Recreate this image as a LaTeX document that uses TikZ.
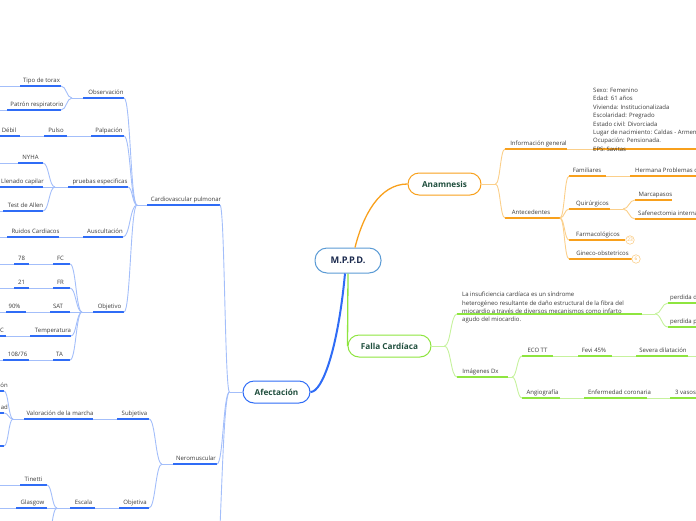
\documentclass[tikz,border=0pt]{standalone}
\usepackage{fontspec}
\setmainfont{Open Sans}
\usetikzlibrary{calc}
\definecolor{blu}{HTML}{2F6CF6}
\definecolor{bluL}{HTML}{A3BEFA}
\definecolor{ora}{HTML}{F8A01C}
\definecolor{oraL}{HTML}{FBCF8A}
\definecolor{grn}{HTML}{8EE53F}
\definecolor{grnL}{HTML}{C6F29D}
\definecolor{hubc}{HTML}{5B9BD5}
\definecolor{navy}{HTML}{1B2A4E}
\definecolor{dkgrn}{HTML}{1F4E3D}
\definecolor{ink}{HTML}{3A3A3A}
\begin{document}
\begin{tikzpicture}[x=1pt, y=-1pt, line cap=butt,
    every node/.style={font=\fontsize{6}{7}\selectfont, text=ink},
    lbl/.style={inner sep=0pt, anchor=base, yshift=3.2pt},
    lbll/.style={lbl, anchor=base west},
    lblr/.style={lbl, anchor=base east},
    hub/.style={draw=hubc, line width=1pt, fill=white, rounded corners=12pt, minimum width=66pt, minimum height=25pt, inner sep=0pt, font=\bfseries\fontsize{9.2}{10}\selectfont, text=navy},
    topic/.style={line width=1pt, fill=white, rounded corners=11pt, minimum height=22pt, inner sep=0pt, font=\bfseries\fontsize{8.2}{10}\selectfont, text=dkgrn},
    count/.style={circle, draw=oraL, line width=0.6pt, fill=white, minimum size=8.5pt, inner sep=0pt, font=\fontsize{4.8}{5}\selectfont, text=ora!70},
    bbar/.style={draw=blu, line width=1.8pt}, blink/.style={draw=bluL, line width=0.9pt},
    obar/.style={draw=ora, line width=1.8pt}, olink/.style={draw=oraL, line width=0.9pt},
    gbar/.style={draw=grn, line width=1.8pt}, glink/.style={draw=grnL, line width=0.9pt},
    branch/.style={to path={.. controls ($(\tikztostart)!0.5!(\tikztostart -| \tikztotarget)$) and ($(\tikztotarget)!0.5!(\tikztotarget -| \tikztostart)$) .. (\tikztotarget)}}]
    \useasboundingbox (0,0) rectangle (696,520);
    \clip (0,0) rectangle (696,520);

    % Centro y ramas principales
    \node[hub] (mppd) at (348,260.5) {M.P.P.D.};
    \node[topic, draw=ora, minimum width=73pt] (anam) at (444.5,184) {Anamnesis};
    \node[topic, draw=grn, minimum width=83pt] (falla) at (389.5,346) {Falla Cardíaca};
    \node[topic, draw=blu, minimum width=67pt] (afec) at (276.5,392) {Afectación};
    \draw[ora, line width=1.3pt] ([xshift=7pt]mppd.north) .. controls +(8,-32) and +(-28,0) .. (anam.west);
    \draw[grn, line width=1.3pt] (mppd.south) -- (falla.west);
    \draw[blu, line width=2pt] ([xshift=-3pt]mppd.south) .. controls +(-7,75) and +(12,0) .. (afec.east);

    % Anamnesis
    \draw[olink] (anam.east) -- ++(14,0) coordinate (anam-j);
    \draw[obar] (505,149) coordinate (info-l) -- (567,149) coordinate (info-r);
    \node[lbl] (info) at (538.5,149) {Información general};
    \draw[obar] (593,149) coordinate (datos-l) -- (700,149);
    \draw[olink] (info-r) -- (datos-l);
    \node[lbll, anchor=north west, align=left, font=\fontsize{6}{8.4}\selectfont] (datos) at (593,91) {Sexo: Femenino\\Edad: 61 años\\Vivienda: Institucionalizada\\Escolaridad: Pregrado\\Estado civil: Divorciada\\Lugar de nacimiento: Caldas - Armenia\\Ocupación: Pensionada.\\EPS: Savitas};
    \draw[obar] (505,218) coordinate (ante-l) -- (560,218) coordinate (ante-r);
    \node[lbl] (ante) at (531,218) {Antecedentes};
    \draw[olink] (anam-j) to[branch] (info-l);
    \draw[olink] (anam-j) to[branch] (ante-l);
    % Antecedentes
    \draw[obar] (569,176) coordinate (fam-l) -- (606,176) coordinate (fam-r);
    \node[lbl] (fam) at (587,176) {Familiares};
    \draw[obar] (630,176) coordinate (herm-l) -- (700,176);
    \node[lbll] (herm) at (635,176) {Hermana Problemas c};
    \draw[olink] (fam-r) -- (herm-l);
    \draw[obar] (569,209) coordinate (quir-l) -- (610,209) coordinate (quir-r);
    \node[lbl] (quir) at (592.5,209) {Quirúrgicos};
    \draw[olink] (quir-r) -- ++(13,0) coordinate (quir-j);
    \draw[obar] (635,200) coordinate (marc-l) -- (672,200);
    \node[lbl] (marc) at (655.5,200) {Marcapasos};
    \draw[obar] (635,219) coordinate (safe-l) -- (700,219);
    \node[lbll] (safe) at (638,219) {Safenectomia interna};
    \draw[olink] (quir-j) to[branch] (marc-l);
    \draw[olink] (quir-j) to[branch] (safe-l);
    \draw[obar] (569,240) coordinate (farm-l) -- (625,240);
    \node[lbl] (farm) at (598,240) {Farmacológicos};
    \node[count] (farm-n) at (630,240) {23};
    \draw[obar] (569,259) coordinate (gine-l) -- (632,259);
    \node[lbl] (gine) at (602.5,259) {Gineco-obstetricos};
    \node[count] (gine-n) at (636,259) {6};
    \foreach \k in {fam,quir,farm,gine}
        \draw[olink] (ante-r) to[branch] (\k-l);

    % Falla Cardiaca
    \draw[glink] (falla.east) -- ++(13,0) coordinate (falla-j);
    \draw[gbar] (457,314) coordinate (def-l) -- (642,314) coordinate (def-r);
    \node[lbll, anchor=north west, align=left, font=\fontsize{6}{8.4}\selectfont] (def) at (462,295) {La insuficiencia cardíaca es un síndrome\\heterogéneo resultante de daño estructural de la fibra del\\miocardio a través de diversos mecanismos como infarto\\agudo del miocardio.};
    \draw[glink] (def-r) -- ++(13,0) coordinate (def-j);
    \draw[gbar] (668,303) coordinate (perd1-l) -- (700,303);
    \node[lbll] (perd1) at (670,303) {perdida d};
    \draw[gbar] (668,327) coordinate (perd2-l) -- (700,327);
    \node[lbll] (perd2) at (670,327) {perdida p};
    \draw[glink] (def-j) to[branch] (perd1-l);
    \draw[glink] (def-j) to[branch] (perd2-l);
    \draw[gbar] (457,377) coordinate (img-l) -- (508,377) coordinate (img-r);
    \node[lbl] (img) at (480.5,377) {Imágenes Dx};
    \draw[glink] (falla-j) to[branch] (def-l);
    \draw[glink] (falla-j) to[branch] (img-l);
    \draw[glink] (img-r) -- ++(4,0) coordinate (img-j);
    % Imagenes Dx
    \draw[gbar] (522,356) coordinate (eco-l) -- (553,356) coordinate (eco-r);
    \node[lbl] (eco) at (537.5,356) {ECO TT};
    \draw[gbar] (578,356) coordinate (fevi-l) -- (612,356) coordinate (fevi-r);
    \node[lbl] (fevi) at (594,356) {Fevi 45\%};
    \draw[gbar] (636,356) coordinate (sev-l) -- (688,356) coordinate (sev-r);
    \node[lbl] (sev) at (663,356) {Severa dilatación};
    \draw[glink] (eco-r) -- (fevi-l);
    \draw[glink] (fevi-r) -- (sev-l);
    \draw[glink] (sev-r) -- (700,356);
    \draw[gbar] (522,398) coordinate (ang-l) -- (560,398) coordinate (ang-r);
    \node[lbl] (ang) at (542.5,398) {Angiografía};
    \draw[gbar] (584,398) coordinate (enf-l) -- (647,398) coordinate (enf-r);
    \node[lbl] (enf) at (619.5,398) {Enfermedad coronaria};
    \draw[gbar] (670,398) coordinate (vas-l) -- (700,398);
    \node[lbll] (vas) at (675,398) {3 vasos};
    \draw[glink] (ang-r) -- (enf-l);
    \draw[glink] (enf-r) -- (vas-l);
    \draw[glink] (img-j) to[branch] (eco-l);
    \draw[glink] (img-j) to[branch] (ang-l);

    % Afectacion
    \draw[blink] (afec.west) -- ++(-13,0) coordinate (afec-j);
    \coordinate (afec-c) at (213,600);
    \draw[bbar] (147,205) coordinate (cv-l) -- (220,205) coordinate (cv-r);
    \node[lbl] (cv) at (186,205) {Cardiovascular pulmonar};
    \draw[blink] (cv-l) -- ++(-10,0) coordinate (cv-j);
    \draw[bbar] (173,464) coordinate (nero-l) -- (217,464) coordinate (nero-r);
    \node[lbl] (nero) at (196,464) {Neromuscular};
    \draw[blink] (nero-l) -- ++(-11,0) coordinate (nero-j);
    \draw[blink] (afec-j) to[branch] (cv-r);
    \draw[blink] (afec-j) to[branch] (nero-r);
    \draw[blink] (afec-j) to[branch] (afec-c);

    % Cardiovascular pulmonar
    \draw[bbar] (83,98) coordinate (obs-l) -- (124,98) coordinate (obs-r);
    \node[lbl] (obs) at (106,98) {Observación};
    \draw[blink] (obs-l) -- ++(-11,0) coordinate (obs-j);
    \draw[bbar] (20,86) coordinate (tor-l) -- (61,86) coordinate (tor-r);
    \node[lbl] (tor) at (41.5,86) {Tipo de torax};
    \draw[blink] (tor-l) -- (-5,86);
    \draw[bbar] (7,110) coordinate (pat-l) -- (61,110) coordinate (pat-r);
    \node[lbl] (pat) at (37,110) {Patrón respiratorio};
    \draw[blink] (pat-l) -- (-5,110);
    \draw[blink] (obs-j) to[branch] (tor-r);
    \draw[blink] (obs-j) to[branch] (pat-r);
    \draw[bbar] (91,136) coordinate (palp-l) -- (124,136) coordinate (palp-r);
    \node[lbl] (palp) at (109,136) {Palpación};
    \draw[bbar] (44,136) coordinate (pul-l) -- (67,136) coordinate (pul-r);
    \node[lbl] (pul) at (56,136) {Pulso};
    \draw[bbar] (-5,136) -- (20,136) coordinate (deb-r);
    \node[lbl] (deb) at (9,136) {Débil};
    \draw[blink] (palp-l) -- (pul-r);
    \draw[blink] (pul-l) -- (deb-r);
    \draw[bbar] (68,187) coordinate (prue-l) -- (128,187) coordinate (prue-r);
    \node[lbl] (prue) at (100,187) {pruebas especificas};
    \draw[blink] (prue-l) -- ++(-13,0) coordinate (prue-j);
    \draw[bbar] (18,163) coordinate (nyha-l) -- (43,163) coordinate (nyha-r);
    \node[lbl] (nyha) at (30.5,163) {NYHA};
    \draw[blink] (nyha-l) -- (-5,163);
    \draw[bbar] (-5,187) -- (43,187) coordinate (llen-r);
    \node[lbl] (llen) at (22.5,187) {Llenado capilar};
    \draw[bbar] (3,211) coordinate (allen-l) -- (43,211) coordinate (allen-r);
    \node[lbl] (allen) at (25.5,211) {Test de Allen};
    \draw[blink] (allen-l) -- (-5,211);
    \foreach \k in {nyha,llen,allen}
        \draw[blink] (prue-j) to[branch] (\k-r);
    \draw[bbar] (83,237) coordinate (ausc-l) -- (123,237) coordinate (ausc-r);
    \node[lbl] (ausc) at (105,237) {Auscultación};
    \draw[bbar] (7,237) coordinate (ruid-l) -- (59,237) coordinate (ruid-r);
    \node[lbl] (ruid) at (35.5,237) {Ruidos Cardiacos};
    \draw[blink] (ausc-l) -- (ruid-r);
    \draw[blink] (ruid-l) -- (-5,237);
    \draw[bbar] (93,312) coordinate (obj-l) -- (124,312) coordinate (obj-r);
    \node[lbl] (obj) at (109.5,312) {Objetivo};
    \draw[blink] (obj-l) -- ++(-11,0) coordinate (obj-j);
    \foreach \k in {obs,palp,prue,ausc,obj}
        \draw[blink] (cv-j) to[branch] (\k-r);

    % Objetivo: signos vitales
    \draw[bbar] (53,264) coordinate (fc-l) -- (70,264) coordinate (fc-r);
    \node[lbl] (fc) at (60.5,264) {FC};
    \draw[bbar] (14,264) coordinate (fcv-l) -- (29,264) coordinate (fcv-r);
    \node[lbl] (fcv) at (21.5,264) {78};
    \draw[bbar] (53,288) coordinate (fr-l) -- (70,288) coordinate (fr-r);
    \node[lbl] (fr) at (60.5,288) {FR};
    \draw[bbar] (14,288) coordinate (frv-l) -- (29,288) coordinate (frv-r);
    \node[lbl] (frv) at (21.5,288) {21};
    \draw[bbar] (50,312) coordinate (sat-l) -- (70,312) coordinate (sat-r);
    \node[lbl] (sat) at (58,312) {SAT};
    \draw[bbar] (6,312) coordinate (satv-l) -- (26,312) coordinate (satv-r);
    \node[lbl] (satv) at (14.5,312) {90\%};
    \draw[bbar] (30,336) coordinate (temp-l) -- (71,336) coordinate (temp-r);
    \node[lbl] (temp) at (53,336) {Temperatura};
    \draw[bbar] (-5,336) -- (6,336) coordinate (tempv-r);
    \node[lblr] (tempv) at (4,336) {36°C};
    \draw[bbar] (53,360) coordinate (ta-l) -- (70,360) coordinate (ta-r);
    \node[lbl] (ta) at (59.5,360) {TA};
    \draw[bbar] (3,360) coordinate (tav-l) -- (29,360) coordinate (tav-r);
    \node[lbl] (tav) at (17.5,360) {108/76};
    \foreach \k/\v in {fc/fcv,fr/frv,sat/satv,ta/tav}
        \draw[blink] (\k-l) -- (\v-r);
    \draw[blink] (temp-l) -- (tempv-r);
    \foreach \v in {fcv,frv,satv,tav}
        \draw[blink] (\v-l) -- ++(-20,0);
    \foreach \k in {fc,fr,sat,temp,ta}
        \draw[blink] (obj-j) to[branch] (\k-r);

    % Neromuscular
    \draw[bbar] (117,419) coordinate (subj-l) -- (149,419) coordinate (subj-r);
    \node[lbl] (subj) at (134.5,419) {Subjetiva};
    \draw[bbar] (24,419) coordinate (marcha-l) -- (93,419) coordinate (marcha-r);
    \node[lbl] (marcha) at (60,419) {Valoración de la marcha};
    \draw[blink] (subj-l) -- (marcha-r);
    \draw[blink] (marcha-l) -- ++(-11,0) coordinate (marcha-j);
    \draw[bbar] (-20,391) -- (4,391) coordinate (mar1-r);
    \node[lblr] (mar1) at (8,391) {ón};
    \draw[bbar] (-20,413) -- (4,413) coordinate (mar2-r);
    \node[lblr] (mar2) at (8,413) {ad};
    \draw[bbar] (-20,446) -- (4,446) coordinate (mar3-r);
    \foreach \k in {mar1,mar2,mar3}
        \draw[blink] (marcha-j) to[branch] (\k-r);
    \draw[bbar] (119,508) coordinate (obja-l) -- (149,508) coordinate (obja-r);
    \node[lbl] (obja) at (135,508) {Objetiva};
    \draw[bbar] (70,508) coordinate (esc-l) -- (95,508) coordinate (esc-r);
    \node[lbl] (esc) at (83.5,508) {Escala};
    \draw[blink] (obja-l) -- (esc-r);
    \draw[blink] (esc-l) -- ++(-13,0) coordinate (esc-j);
    \coordinate (esc-c) at (46,545);
    \draw[bbar] (20,485) coordinate (tin-l) -- (47,485) coordinate (tin-r);
    \node[lbl] (tin) at (33.5,485) {Tinetti};
    \draw[blink] (tin-l) -- (-5,485);
    \draw[bbar] (16,508) coordinate (glas-l) -- (47,508) coordinate (glas-r);
    \node[lbl] (glas) at (32.5,508) {Glasgow};
    \draw[blink] (glas-l) -- (-5,508);
    \draw[blink] (esc-j) to[branch] (tin-r);
    \draw[blink] (esc-j) to[branch] (glas-r);
    \draw[blink] (esc-j) to[branch] (esc-c);
    \draw[blink] (nero-j) to[branch] (subj-r);
    \draw[blink] (nero-j) to[branch] (obja-r);
\end{tikzpicture}
\end{document}
